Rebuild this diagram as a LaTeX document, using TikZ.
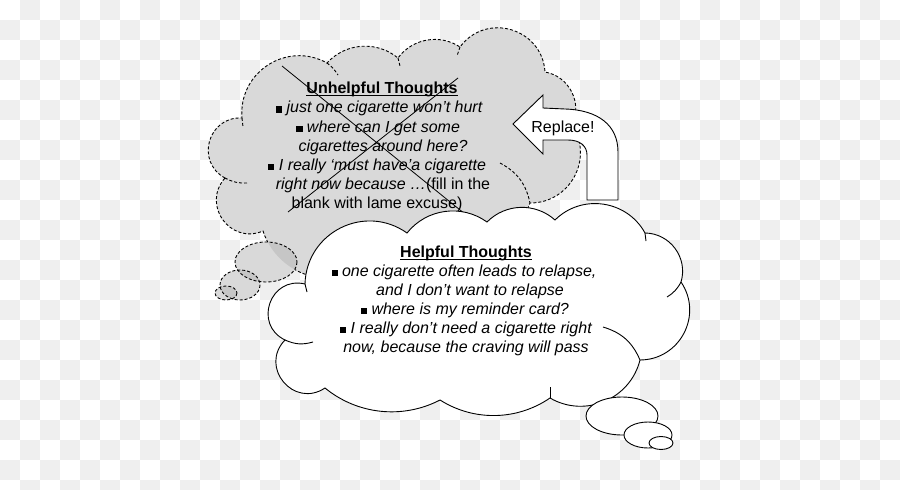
\documentclass[tikz,border=0pt]{standalone}
\usepackage{fontspec}
\setmainfont{Liberation Sans}
\definecolor{checker}{RGB}{239,239,239}
\definecolor{cloudgray}{RGB}{217,217,217}
\definecolor{overgray}{RGB}{198,198,198}
\newcommand\myul[1]{\setbox0\hbox{#1}\rlap{\rule[-2.6pt]{\wd0}{1pt}}\box0}
\newcommand\bsq{\rule{6.5pt}{6.5pt}\ }
\newcommand\bsqs{\rule{6pt}{6pt}\ }
\newcommand\graycloudpath{(225,178) to[lb40] (242,118) to[lb30] (327,63) to[lb20] (398,58) to[lb20] (460,47) to[lb35] (545,72) to[lb25] (572,125) to[lb30] (530,203) -- (515,240) -- (322,278) to[lb15] (263,231) to[lb40] (225,178) -- cycle}
\begin{document}
\begin{tikzpicture}[x=1pt,y=-1pt,
  lb15/.style={bend left=33.4, looseness=0.93},
  lb20/.style={bend left=43.6, looseness=0.99},
  lb25/.style={bend left=53.1, looseness=1.06},
  lb30/.style={bend left=61.9, looseness=1.16},
  lb35/.style={bend left=70, looseness=1.27},
  lb40/.style={bend left=77.3, looseness=1.40},
  lb45/.style={bend left=83.9, looseness=1.54},
  lb50/.style={bend left=90, looseness=1.70},
  gdash/.style={dash pattern=on 3pt off 2pt, line width=0.9pt},
  wline/.style={line width=0.9pt},
  txt/.style={inner sep=0pt, anchor=base, font=\fontsize{16}{19}\selectfont},
  itx/.style={txt, font=\fontsize{16}{19}\selectfont\itshape},
  ttl/.style={txt, font=\fontsize{16}{19}\selectfont\bfseries}]
\useasboundingbox (0,0) rectangle (900,490);
% checkerboard background
\foreach \i in {0,...,44}{
  \foreach \j in {0,...,24}{
    \pgfmathtruncatemacro\chk{mod(\i+\j,2)}
    \ifnum\chk=1 \fill[checker] (\i*20,\j*20) rectangle ++(20,20);\fi
  }
}
% gray (unhelpful) cloud
\path[fill=cloudgray, draw, gdash] \graycloudpath;
\draw[gdash] (247,183) to[bend left=15] (225,178);
\draw[gdash] (242,118) -- (243,127);
\draw[gdash] (327,63) to[bend left=10] (338,75);
\draw[gdash] (398,58) -- (400,66);
\draw[gdash] (460,47) -- (457,56);
\draw[gdash] (500,163) to[bend left=25] (530,203);
% gray thought bubbles
\fill[cloudgray] (266,262) ellipse[x radius=31, y radius=20];
\fill[cloudgray] (240,285) ellipse[x radius=20, y radius=15];
\fill[cloudgray] (226,293) ellipse[x radius=11, y radius=7];
\begin{scope}
  \clip (266,262) ellipse[x radius=31, y radius=20];
  \fill[overgray] \graycloudpath;
  \fill[overgray] (240,285) ellipse[x radius=20, y radius=15];
\end{scope}
\begin{scope}
  \clip (240,285) ellipse[x radius=20, y radius=15];
  \fill[overgray] (226,293) ellipse[x radius=11, y radius=7];
\end{scope}
\draw[gdash] (266,262) ellipse[x radius=31, y radius=20];
\draw[gdash] (240,285) ellipse[x radius=20, y radius=15];
\draw[gdash] (226,293) ellipse[x radius=11, y radius=7];
% unhelpful text
\node[ttl] (u0) at (382,93) {\myul{Unhelpful Thoughts}};
\node[itx] (u1) at (379,112.5) {\bsq just one cigarette won’t hurt};
\node[itx] (u2) at (378,132) {\bsq where can I get some};
\node[itx] (u3) at (383,151) {cigarettes around here?};
\node[itx] (u4) at (377,170) {\bsq I really ‘must have’a cigarette};
\node[txt] (u5) at (383,189) {\itshape right now because …\upshape(fill in the};
\node[txt] (u6) at (377,208) {blank with lame excuse)};
% cross-out
\draw[line width=0.8pt] (282,66) -- (465,214);
\draw[line width=0.8pt] (458,78) -- (288,212);
% white (helpful) cloud
\path[fill=white, draw, wline] (305,284) to[lb30] (407,233) to[lb20] (487,222) to[lb20] (555,220) to[lb25] (645,233) to[lb25] (681,282) to[lb30] (640,360) to[lb25] (550,398) to[lb15] (440,400) to[lb15] (325,388) to[lb45] (285,340) to[lb45] (305,284) -- cycle;
\draw[wline] (313,342) to[bend left=20] (285,340);
\draw[wline] (305,284) -- (307,292);
\draw[wline] (645,233) -- (646,241);
\draw[wline] (681,282) to[bend left=15] (667,297);
\draw[wline] (603,327) to[bend left=25] (640,360);
\draw[wline] (550,398) -- (550,387);
% white thought bubbles
\path[fill=white, draw, wline] (622,416) ellipse[x radius=36, y radius=19];
\path[fill=white, draw, wline] (648,435) ellipse[x radius=24, y radius=13];
\path[fill=white, draw, wline] (661,443) ellipse[x radius=12, y radius=6.5];
% helpful text
\node[ttl] (h0) at (466,257) {\myul{Helpful Thoughts}};
\node[itx] (h1) at (464,276) {\bsqs one cigarette often leads to relapse,};
\node[itx] (h2) at (470,295) {and I don’t want to relapse};
\node[itx] (h3) at (465,314) {\bsqs where is my reminder card?};
\node[itx] (h4) at (466,333) {\bsqs I really don’t need a cigarette right};
\node[itx] (h5) at (466,352) {now, because the craving will pass};
% replace arrow
\path[fill=white, draw, wline] (513,124) -- (543,95) -- (543,108) -- (565,109)
  .. controls (598,110) and (618,125) .. (618,152) -- (618,200) -- (587,200) -- (587,155)
  .. controls (587,146) and (580,140) .. (568,140) -- (543,140) -- (543,154) -- cycle;
\node[txt] (rp) at (563,132) {Replace!};
\end{tikzpicture}
\end{document}
